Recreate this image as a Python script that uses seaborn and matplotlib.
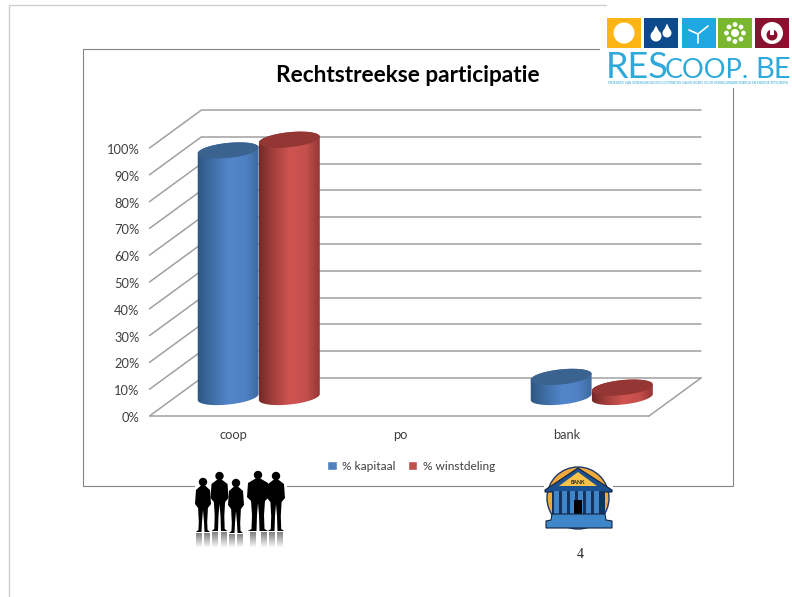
import numpy as np
import pandas as pd
import seaborn as sns
import matplotlib.pyplot as plt
from matplotlib.colors import LinearSegmentedColormap
from matplotlib.patches import Rectangle, Polygon, Circle
from matplotlib.path import Path
from matplotlib.transforms import Affine2D

categories = ['coop', 'po', 'bank']
kapitaal = [92, 0, 7.5]
winstdeling = [96, 0, 3.5]
series_names = ['% kapitaal', '% winstdeling']
y_ticks = [0, 10, 20, 30, 40, 50, 60, 70, 80, 90, 100]
y_tick_labels = ['0%', '10%', '20%', '30%', '40%', '50%', '60%', '70%', '80%', '90%', '100%']

BLUE = '#4f81bd'
RED = '#c0504d'
GRID = '#a0a0a0'
TEXT = '#404040'
W, H = 792, 597

sns.set_style('white')
plt.rcParams['font.family'] = ['Lato', 'DejaVu Sans']

df = pd.DataFrame({
    'cat': categories * 2,
    'serie': [series_names[0]] * 3 + [series_names[1]] * 3,
    'val': kapitaal + winstdeling,
})

fig = plt.figure(figsize=(W / 100, H / 100), dpi=100)
# main axes sits on the middle plane of the fake 3d box
ax = fig.add_axes([175.5 / W, 1 - 397 / H, 499.5 / W, 268 / H])
ax.patch.set_alpha(0)
sns.barplot(data=df, x='cat', y='val', hue='serie', order=categories, hue_order=series_names,
            palette=[BLUE, RED], width=0.735, gap=0, saturation=1, ax=ax)
ax.set(xlim=(-0.5, 2.5), ylim=(0, 100), xlabel='', ylabel='')
sns.despine(ax=ax, left=True, bottom=True)

sns.move_legend(ax, 'center', bbox_to_anchor=(411 / W, 1 - 466.5 / H), bbox_transform=fig.transFigure,
                ncol=2, frameon=False, title=None, fontsize=8.6, handlelength=0.8, handleheight=0.8,
                handletextpad=0.45, columnspacing=1.0, labelcolor=TEXT)

# depth offsets of the box, in pixels
back = ax.transData + Affine2D().translate(26, 19)
front = ax.transData + Affine2D().translate(-26, -19)


def depth_line(p0, p1, tr0, tr1):
    # line between two data points that live on different depth planes
    a = tr0.transform(p0)
    b = tr1.transform(p1)
    ax.plot([a[0], b[0]], [a[1], b[1]], transform=None, color=GRID, lw=1.1, clip_on=False, zorder=0)


for v in y_ticks:
    depth_line((-0.5, v), (2.5, v), back, back)
    depth_line((-0.5, v), (-0.5, v), front, back)
depth_line((-0.5, 0), (2.5, 0), front, front)
depth_line((2.5, 0), (2.5, 0), front, back)

ax.set_yticks(y_ticks, y_tick_labels)
ax.tick_params(axis='y', length=0, pad=26, labelsize=9.3, labelcolor=TEXT)
ax.tick_params(axis='x', length=0, pad=23, labelsize=9.3, labelcolor=TEXT)
for lab in ax.get_yticklabels():
    lab.set_transform(lab.get_transform() + Affine2D().translate(0, -20))
for lab in ax.get_xticklabels():
    lab.set_transform(lab.get_transform() + Affine2D().translate(-25, 0))

# overlay in image pixels for the cylinders and the slide decoration
ov = fig.add_axes([0, 0, 1, 1])
ov.set_xlim(0, W)
ov.set_ylim(H, 0)
ov.axis('off')
ov.set_autoscale_on(False)

ov.plot([9, 9, 606], [H, 5, 5], color='#d0d0d0', lw=1)
ov.add_patch(Rectangle((83, 49), 650, 437, fc='none', ec='#858585', lw=0.8))

ov.text(408, 75, 'Rechtstreekse participatie', ha='center', va='center', fontsize=16.3,
        fontweight='bold', color='black')

cyl_maps = [
    (LinearSegmentedColormap.from_list('b', ['#2d5480', '#3f6ea5', '#5286cb', '#4f81c4', '#396695']), '#3b6390'),
    (LinearSegmentedColormap.from_list('r', ['#6f2725', '#a33f3c', '#cf5451', '#c44f4c', '#8a312f']), '#933634'),
]
TILT = np.radians(-6)


def ellipse_pts(cx, cy, a, b, t):
    x = cx + a * np.cos(t) * np.cos(TILT) - b * np.sin(t) * np.sin(TILT)
    y = cy + a * np.cos(t) * np.sin(TILT) + b * np.sin(t) * np.cos(TILT)
    return np.column_stack([x, y])


# turn the flat seaborn bars into shaded cylinders
for cont, (cmap, top_col) in zip(ax.containers, cyl_maps):
    for bar in cont:
        bar.set_visible(False)
        if bar.get_height() <= 0:
            continue
        x0, base = ax.transData.transform((bar.get_x(), 0))
        x1, top = ax.transData.transform((bar.get_x() + bar.get_width(), bar.get_height()))
        base, top = H - base, H - top
        cx, a, b = (x0 + x1) / 2, (x1 - x0) / 2, 7.5
        body = np.vstack([
            ellipse_pts(cx, base, a, b, np.linspace(np.pi, 0, 60)),
            ellipse_pts(cx, top, a, b, np.linspace(0, -np.pi, 60)),
        ])
        im = ov.imshow(np.linspace(0, 1, 256)[None, :], cmap=cmap, aspect='auto',
                       extent=(x0 - 2, x1 + 2, base + 12, top - 12), zorder=3)
        im.set_clip_path(Path(np.vstack([body, body[:1]])), ov.transData)
        ov.add_patch(Polygon(ellipse_pts(cx, top, a, b, np.linspace(0, 2 * np.pi, 90)),
                             fc=top_col, ec='none', zorder=3))

# logo
ov.add_patch(Rectangle((600, 9), 192, 79, fc='white', ec='none', zorder=4))
logo_cols = ['#fdb515', '#0d4a8c', '#1fa8e1', '#79b82e', '#8a1030']
logo_x = [607, 644, 682, 718, 755]
for x, c in zip(logo_x, logo_cols):
    ov.add_patch(Rectangle((x, 18), 33.5, 30, fc=c, ec='none', zorder=5))
ov.add_patch(Circle((624, 33), 10.5, fc='white', ec='none', zorder=6))
for cx, cy, r in [(656, 36, 5.5), (667, 33, 4.5)]:
    ov.add_patch(Circle((cx, cy), r, fc='white', ec='none', zorder=6))
    ov.add_patch(Polygon([(cx - r + 0.5, cy - 1), (cx, cy - r - 5), (cx + r - 0.5, cy - 1)], fc='white', ec='none', zorder=6))
ov.plot([698, 698], [34, 43], color='white', lw=1.2, zorder=6)
ov.plot([698, 708], [34, 26], color='white', lw=1.2, zorder=6)
ov.plot([698, 689], [34, 30], color='white', lw=1.2, zorder=6)
ov.add_patch(Circle((735, 33), 4, fc='white', ec='none', zorder=6))
for ang in np.arange(0, 360, 45):
    ov.add_patch(Circle((735 + 8.5 * np.cos(np.radians(ang)), 33 + 8.5 * np.sin(np.radians(ang))), 2.4,
                        fc='white', ec='none', zorder=6))
ov.add_patch(Circle((772, 33), 11, fc='white', ec='none', zorder=6))
ov.add_patch(Circle((772, 35), 5.5, fc='#8a1030', ec='none', zorder=6))
ov.add_patch(Rectangle((770, 24), 4, 11, fc='white', ec='none', zorder=6))
ov.text(606, 78.5, 'RES', color='#2fa9d9', fontsize=26, va='baseline', zorder=6)
ov.text(665, 78.5, 'COOP.', color='#2fa9d9', fontsize=19.5, va='baseline', zorder=6)
ov.text(755, 78.5, 'BE', color='#2fa9d9', fontsize=21, va='baseline', zorder=6)
ov.text(698, 82.5, 'FEDERATIE VAN VERENIGINGEN EN COOPERATIES VAN BURGERS VOOR HERNIEUWBARE ENERGIE EN ENERGIE-EFFICIENTIE',
        color='#2fa9d9', fontsize=2.25, ha='center', va='center', zorder=6)

# people picture
ov.add_patch(Rectangle((195, 447), 92, 100, fc='white', ec='none', zorder=4))
people_x = [203, 219.5, 236, 258, 276]
people_head = [482, 476, 483, 475, 476]
people_foot = [532, 531, 533, 531, 531]
people_w = [7, 8, 7, 10, 8]
fade = np.zeros((32, 1, 4))
fade[:, 0, :3] = 0.45
fade[:, 0, 3] = np.linspace(0.9, 0.05, 32)
for px, hy, fy, w in zip(people_x, people_head, people_foot, people_w):
    ov.add_patch(Circle((px, hy), 4.2, fc='black', ec='none', zorder=5))
    ov.add_patch(Polygon([(px - 1.5, hy + 3), (px + 1.5, hy + 3), (px + w, hy + 8), (px + w + 1, hy + 22),
                          (px + 0.7 * w, hy + 26), (px + 0.6 * w, hy + 40), (px + 0.65 * w, fy - 2),
                          (px + w, fy), (px + 1.5, fy), (px + 1, hy + 40), (px, hy + 28),
                          (px - 1, hy + 40), (px - 1.5, fy), (px - w, fy), (px - 0.65 * w, fy - 2),
                          (px - 0.6 * w, hy + 40), (px - 0.7 * w, hy + 26), (px - w - 1, hy + 22), (px - w, hy + 8)],
                         fc='black', ec='none', zorder=5))
    for off in (-0.55 * w, 0.55 * w):
        ov.imshow(fade, aspect='auto', extent=(px + off - 3, px + off + 3, 547, fy + 1), zorder=5)

# bank picture
ov.add_patch(Rectangle((544, 466), 69, 64, fc='white', ec='none', zorder=4))
ov.add_patch(Circle((578, 498), 31, fc='#f2a93b', ec='#1c3768', lw=1, zorder=5))
ov.add_patch(Polygon([(545, 490), (578, 468), (612, 490), (612, 492), (545, 492)], fc='#1c4f8f', ec='#10233f', lw=0.8, zorder=6))
ov.add_patch(Polygon([(559, 486), (578, 472), (597, 486)], fc='#f8c14a', ec='none', zorder=6))
ov.text(578, 482, 'BANK', fontsize=3.8, fontweight='bold', ha='center', va='center', color='#222222', zorder=7)
ov.add_patch(Rectangle((552, 492), 53, 23, fc='#14345f', ec='none', zorder=6))
for x in np.arange(554, 602, 8):
    ov.add_patch(Rectangle((x, 491), 4.5, 24, fc='#3f86c9', ec='none', zorder=6))
ov.add_patch(Rectangle((574, 500), 8, 15, fc='black', ec='none', zorder=7))
ov.add_patch(Polygon([(552, 514), (605, 514), (606, 520), (612, 521), (612, 528), (546, 528), (546, 521), (551, 520)],
                     fc='#3f86c9', ec='#10233f', lw=0.8, zorder=7))

ov.text(580, 555, '4', family='Liberation Serif', fontsize=10, ha='center', va='center', color='#222222')

fig.savefig('out.png', dpi=100)
